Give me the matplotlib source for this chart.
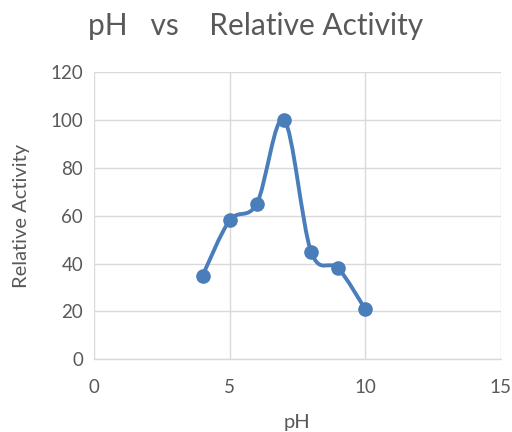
import numpy as np
import matplotlib.pyplot as plt
from matplotlib.path import Path
from matplotlib.patches import PathPatch

ph = [4, 5, 6, 7, 8, 9, 10]
activity = [35, 58, 65, 100, 45, 38, 21]

BLUE = "#4a7ebb"
GRID = "#d9d9d9"
TEXT = "#595959"

plt.rcParams['font.family'] = ['Lato', 'DejaVu Sans']


def smooth_path(xs, ys):
    # Catmull-Rom style cubic Bezier segments through every point
    pts = np.column_stack([xs, ys]).astype(float)
    verts = [pts[0]]
    codes = [Path.MOVETO]
    n = len(pts)
    for i in range(n - 1):
        p0 = pts[max(i - 1, 0)]
        p1 = pts[i]
        p2 = pts[i + 1]
        p3 = pts[min(i + 2, n - 1)]
        c1 = p1 + (p2 - p0) / 6.0
        c2 = p2 - (p3 - p1) / 6.0
        verts += [c1, c2, p2]
        codes += [Path.CURVE4] * 3
    return Path(verts, codes)


fig = plt.figure(figsize=(5.12, 4.32), dpi=100)
ax = fig.add_axes([0.184, 0.168, 0.794, 0.666])

ax.add_patch(PathPatch(smooth_path(ph, activity), fill=False,
                       edgecolor=BLUE, lw=2.8, capstyle='round',
                       joinstyle='round', zorder=3))
ax.plot(ph, activity, ls='none', marker='o', ms=9.5, color=BLUE, zorder=4)

ax.set_xlim(0, 15)
ax.set_ylim(0, 120)
ax.set_xticks([0, 5, 10, 15])
ax.set_yticks(range(0, 121, 20))
ax.grid(True, color=GRID, lw=1.0)
ax.set_axisbelow(True)
for side in ['left', 'top', 'right']:
    ax.spines[side].set_visible(False)
ax.spines['bottom'].set_color(GRID)
ax.spines['bottom'].set_linewidth(1.0)
ax.tick_params(length=0, labelsize=13.5, labelcolor=TEXT)
ax.tick_params(axis='x', pad=14)
ax.tick_params(axis='y', pad=8)

ax.set_xlabel("pH", fontsize=14.5, color=TEXT)
ax.set_ylabel("Relative Activity", fontsize=14.5, color=TEXT)
ax.xaxis.set_label_coords(0.5, -0.218)
ax.yaxis.set_label_coords(-0.178, 0.5)
ax.xaxis.label.set_va('center')
ax.yaxis.label.set_va('center')
fig.text(0.5, 0.94, "pH   vs    Relative Activity", ha='center', va='center',
         fontsize=21.5, color=TEXT)

fig.savefig("out.png", dpi=100, facecolor='white')
